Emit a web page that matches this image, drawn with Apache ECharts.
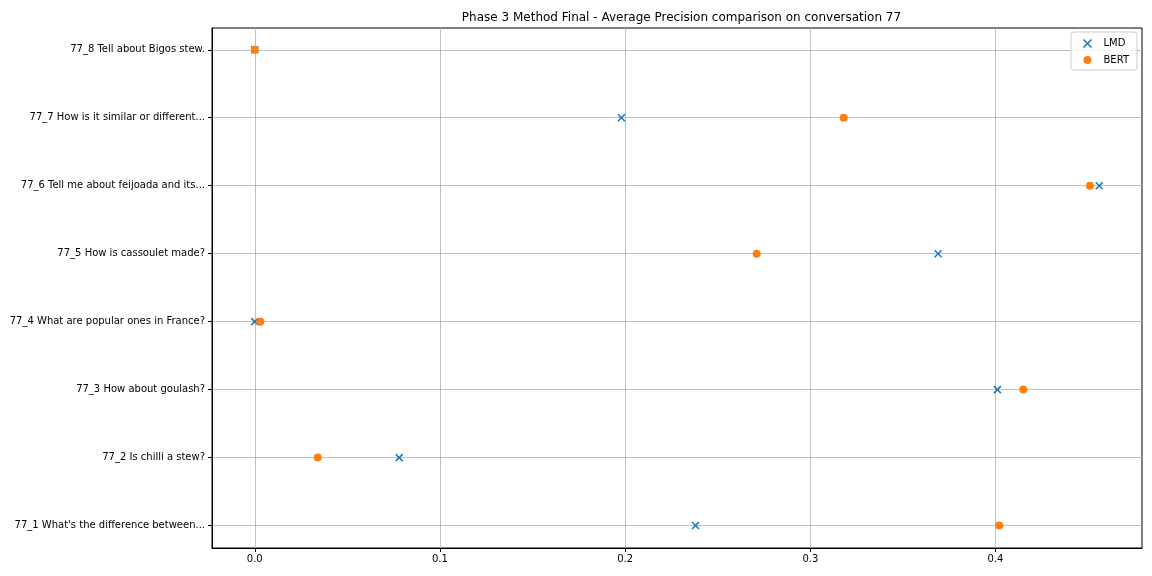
<!DOCTYPE html>
<html><head><meta charset="utf-8">
<script src="https://cdn.jsdelivr.net/npm/echarts@6/dist/echarts.min.js"></script>
<style>html,body{margin:0;padding:0;background:#fff}#c{width:1152px;height:576px}</style>
</head><body><div id="c"></div>
<script>
const categories = [
  "77_1 What's the difference between...",
  "77_2 Is chilli a stew?",
  "77_3 How about goulash?",
  "77_4 What are popular ones in France?",
  "77_5 How is cassoulet made?",
  "77_6 Tell me about feijoada and its...",
  "77_7 How is it similar or different...",
  "77_8 Tell about Bigos stew."
];
const lmd  = [0.238, 0.078, 0.401, 0.000, 0.369, 0.456, 0.198, 0.000];
const bert = [0.402, 0.034, 0.415, 0.003, 0.271, 0.451, 0.318, 0.000];
const xTicks = [0, 0.1, 0.2, 0.3, 0.4];
const yTicks = [0, 1, 2, 3, 4, 5, 6, 7];

const chart = echarts.init(document.getElementById('c'), null, {renderer: 'canvas'});
const font = 'DejaVu Sans';
const xPath = 'path://M0,0L10,10M10,0L0,10';
chart.setOption({
  animation: false,
  backgroundColor: '#fff',
  title: {
    text: 'Phase 3 Method Final - Average Precision comparison on conversation 77',
    left: 676.5, top: 7, textAlign: 'center',
    textStyle: {fontFamily: font, fontSize: 12, fontWeight: 'normal', color: '#000'}
  },
  legend: {
    orient: 'vertical', right: 15, top: 32,
    backgroundColor: 'rgba(255,255,255,0.8)', borderColor: '#ccc', borderWidth: 1, borderRadius: 3,
    padding: [5, 8, 5, 10], itemGap: 5, itemWidth: 10, itemHeight: 8,
    textStyle: {fontFamily: font, fontSize: 10, color: '#000', padding: [0, 0, 0, 6]},
    data: [
      {name: 'LMD', icon: xPath, itemStyle: {color: 'none', borderColor: '#1f77b4', borderWidth: 1.5, opacity: 1}},
      {name: 'BERT', icon: 'circle', itemStyle: {color: '#ff7f0e', opacity: 1}}
    ]
  },
  grid: {left: 212, right: 10, top: 28, bottom: 28, show: true, borderColor: '#000', borderWidth: 1},
  xAxis: {
    type: 'value', min: -0.0231, max: 0.4791,
    axisLine: {show: true, onZero: false, lineStyle: {color: '#000', width: 1}},
    axisTick: {show: true, length: 4, lineStyle: {color: '#000'}, customValues: xTicks},
    axisLabel: {fontFamily: font, fontSize: 10, color: '#000', margin: 6, customValues: xTicks,
      formatter: v => v.toFixed(1)},
    splitLine: {show: true, lineStyle: {color: '#b0b0b0', width: 0.8}}
  },
  yAxis: {
    type: 'value', min: -0.33, max: 7.32,
    axisLine: {show: true, onZero: false, lineStyle: {color: '#000', width: 1}},
    axisTick: {show: true, length: 4, lineStyle: {color: '#000'}, customValues: yTicks},
    axisLabel: {fontFamily: font, fontSize: 10, color: '#000', margin: 7, customValues: yTicks,
      formatter: v => categories[Math.round(v)] || ''},
    splitLine: {show: true, lineStyle: {color: '#b0b0b0', width: 0.8}}
  },
  series: [
    {name: 'LMD', type: 'scatter', symbol: xPath, symbolSize: 7,
     itemStyle: {color: 'none', borderColor: '#1f77b4', borderWidth: 1.5, opacity: 1},
     data: lmd.map((v, i) => [v, i])},
    {name: 'BERT', type: 'scatter', symbol: 'circle', symbolSize: 8,
     itemStyle: {color: '#ff7f0e', opacity: 1},
     data: bert.map((v, i) => [v, i])}
  ]
});
</script></body></html>
